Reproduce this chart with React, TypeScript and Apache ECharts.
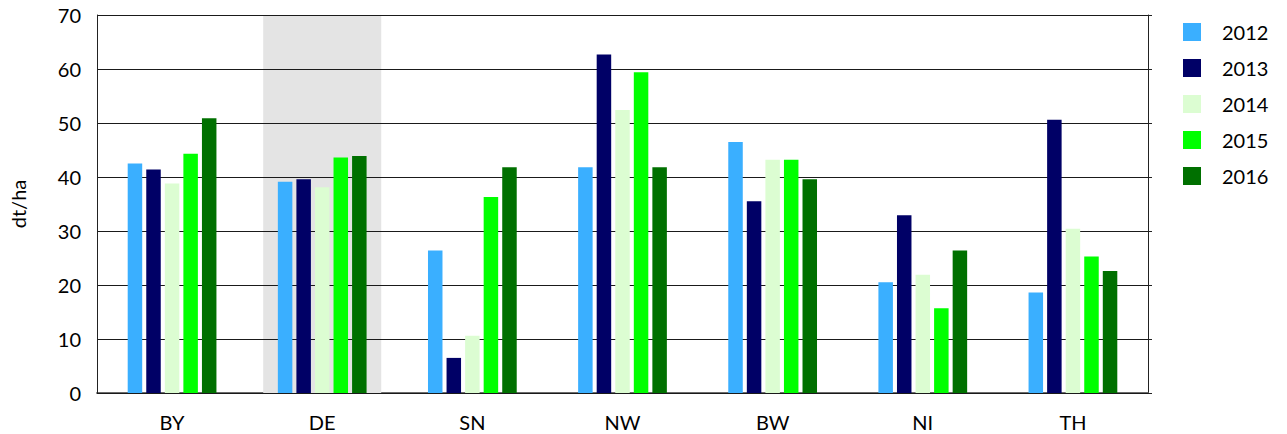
import React, { useEffect, useRef } from "react";
import * as echarts from "echarts";

const categories = ["BY", "DE", "SN", "NW", "BW", "NI", "TH"];
const years = ["2012", "2013", "2014", "2015", "2016"];
const v2012 = [42.5, 39.1, 26.4, 41.8, 46.5, 20.5, 18.6];
const v2013 = [41.4, 39.6, 6.5, 62.7, 35.5, 32.9, 50.6];
const v2014 = [38.8, 38.1, 10.6, 52.4, 43.2, 21.9, 30.4];
const v2015 = [44.3, 43.6, 36.3, 59.4, 43.2, 15.7, 25.3];
const v2016 = [50.9, 43.9, 41.8, 41.8, 39.6, 26.4, 22.6];
const highlight = [null, 70, null, null, null, null, null];
const colors = ["#3aafff", "#000066", "#dcfdd2", "#00ff00", "#007000"];

const FONT = "Lato";

export default function App() {
  const ref = useRef<HTMLDivElement>(null);
  useEffect(() => {
    const chart = echarts.init(ref.current!, null, { renderer: "svg" });
    const values = [v2012, v2013, v2014, v2015, v2016];
    chart.setOption({
      animation: false,
      textStyle: { fontFamily: FONT },
      grid: { left: 97, right: 139, top: 15, bottom: 41 },
      legend: {
        orient: "vertical",
        left: 1183,
        top: 22,
        padding: 0,
        itemWidth: 18,
        itemHeight: 18,
        itemGap: 16,
        icon: "rect",
        textStyle: { fontFamily: FONT, fontSize: 20, color: "#000", padding: [0, 0, 0, 16] },
        data: years,
      },
      xAxis: [
        {
          type: "category",
          data: categories,
          axisLine: { lineStyle: { color: "#555", width: 1.5 } },
          axisTick: { show: false },
          axisLabel: { fontFamily: FONT, fontSize: 20, color: "#000", margin: 19 },
        },
        {
          type: "category",
          data: categories,
          position: "top",
          axisLine: { show: true, lineStyle: { color: "#666", width: 1.5 } },
          axisTick: { show: false },
          axisLabel: { show: false },
        },
      ],
      yAxis: [
        {
          type: "value",
          min: 0,
          max: 70,
          interval: 10,
          z: 1,
          name: "dt/ha",
          nameLocation: "middle",
          nameGap: 69,
          nameTextStyle: { fontFamily: FONT, fontSize: 20, color: "#000" },
          axisLine: { show: true, lineStyle: { color: "#222" } },
          axisTick: { show: false },
          axisLabel: { fontFamily: FONT, fontSize: 20, color: "#000", margin: 16 },
          splitLine: { lineStyle: { color: "#1a1a1a", width: 1 } },
        },
        {
          type: "value",
          min: 0,
          max: 70,
          interval: 10,
          position: "right",
          axisLine: { show: true, lineStyle: { color: "#222" } },
          axisTick: { show: true, length: 4, inside: false, lineStyle: { color: "#222" } },
          axisLabel: { show: false },
          splitLine: { show: false },
        },
      ],
      series: [
        {
          type: "bar",
          name: "highlight",
          xAxisIndex: 1,
          yAxisIndex: 0,
          z: 0,
          barWidth: 118,
          data: highlight,
          itemStyle: { color: "#e4e4e4" },
          silent: true,
        },
        ...years.map((y, i) => ({
          type: "bar",
          name: y,
          xAxisIndex: 0,
          yAxisIndex: 0,
          z: 2,
          barWidth: 14.5,
          barGap: "28%",
          data: values[i],
          itemStyle: { color: colors[i] },
        })),
      ],
    });
    return () => chart.dispose();
  }, []);
  return (
    <div
      ref={ref}
      style={{ position: "absolute", left: 0, top: 0, width: 1287, height: 434 }}
    />
  );
}
